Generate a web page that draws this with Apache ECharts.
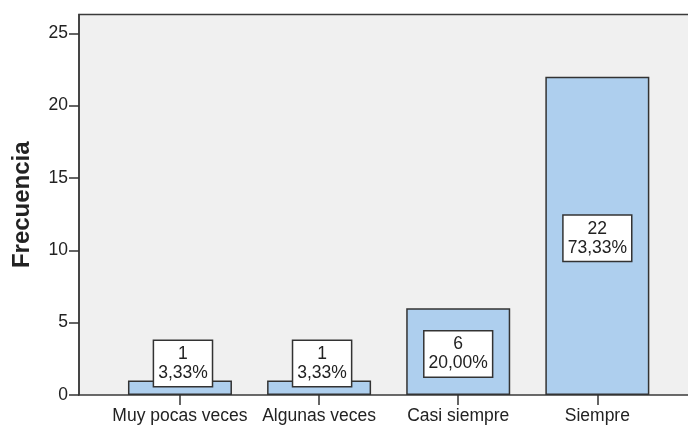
<!DOCTYPE html>
<html>
<head>
<meta charset="utf-8">
<script src="https://cdn.jsdelivr.net/npm/echarts@6/dist/echarts.min.js"></script>
<style>
  html, body { margin: 0; padding: 0; background: #ffffff; }
  #chart { width: 688px; height: 427px; }
</style>
</head>
<body>
<div id="chart"></div>
<script>
// Frequency of responses per category
const categories = ['Muy pocas veces', 'Algunas veces', 'Casi siempre', 'Siempre'];
const frequencies = [1, 1, 6, 22];
const yTicks = [0, 5, 10, 15, 20, 25];
const yMax = 26.3;

const total = frequencies.reduce((a, b) => a + b, 0);
const pct = v => (v / total * 100).toFixed(2).replace('.', ',') + '%';

const FONT = 'Arial, "Liberation Sans", sans-serif';
const INK = '#222222';

const barData = frequencies.map(v => {
  const small = v < 3;
  return {
    value: v,
    label: small
      ? { position: 'insideBottom', distance: 9, offset: [3, 0] }
      : { position: 'inside', offset: [0, 2.5] }
  };
});

const chart = echarts.init(document.getElementById('chart'), null, { renderer: 'canvas' });
chart.setOption({
  animation: false,
  grid: [
    // frame with the value axis
    { left: 79, top: 14.5, right: -10, bottom: 32, show: true,
      backgroundColor: '#f0f0f0', borderColor: '#3a3a3a', borderWidth: 1.5,
      outerBoundsMode: 'none' },
    // bars
    { left: 110.4, top: 14.5, right: 21.1, bottom: 32, outerBoundsMode: 'none' }
  ],
  xAxis: [
    { gridIndex: 0, type: 'value', show: false, min: 0, max: 1 },
    { gridIndex: 1, type: 'category', data: categories,
      axisLine: { show: false },
      axisTick: { show: true, alignWithLabel: true, length: 10, lineStyle: { color: '#333', width: 1.5 } },
      axisLabel: { color: INK, fontFamily: FONT, fontSize: 17.5, margin: 12, interval: 0 } }
  ],
  yAxis: [
    { gridIndex: 0, type: 'value', min: 0, max: yMax, interval: 5,
      splitLine: { show: false },
      axisLine: { show: true, lineStyle: { color: '#3a3a3a', width: 1.5 } },
      axisTick: { show: true, length: 10, customValues: yTicks, lineStyle: { color: '#333', width: 1.5 } },
      axisLabel: { color: INK, fontFamily: FONT, fontSize: 17.5, margin: 11, customValues: yTicks },
      name: 'Frecuencia', nameLocation: 'middle', nameGap: 45, nameRotate: 90,
      nameTextStyle: { color: INK, fontFamily: FONT, fontSize: 24, fontWeight: 'bold' } },
    { gridIndex: 1, type: 'value', min: 0, max: yMax, show: false }
  ],
  series: [{
    type: 'bar',
    xAxisIndex: 1, yAxisIndex: 1,
    data: barData,
    barWidth: 104,
    itemStyle: { color: '#aecfee', borderColor: '#333333', borderWidth: 1.5 },
    label: {
      show: true,
      formatter: p => p.value + '\n' + pct(p.value),
      color: INK, fontFamily: FONT, fontSize: 17.5, lineHeight: 19,
      align: 'center',
      backgroundColor: '#ffffff', borderColor: '#333333', borderWidth: 1.5,
      padding: [4, 4, 3, 4]
    }
  }]
});
</script>
</body>
</html>
